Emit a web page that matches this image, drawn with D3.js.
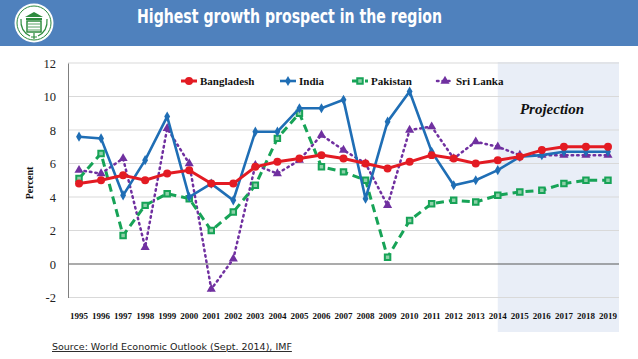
<!DOCTYPE html>
<html><head><meta charset="utf-8">
<script src="https://cdn.jsdelivr.net/npm/d3@7/dist/d3.min.js"></script>
<style>
html,body{margin:0;padding:0;background:#fff;}
svg{display:block;}
</style></head>
<body>
<script>
const years = d3.range(1995, 2020).map(String);
const bangladesh = [4.8,5.0,5.3,5.0,5.4,5.6,4.8,4.8,5.8,6.1,6.3,6.5,6.3,6.0,5.7,6.1,6.5,6.3,6.0,6.2,6.4,6.8,7.0,7.0,7.0];
const india = [7.6,7.5,4.1,6.2,8.8,4.0,4.8,3.8,7.9,7.9,9.3,9.3,9.8,3.9,8.5,10.3,6.7,4.7,5.0,5.6,6.4,6.5,6.7,6.7,6.7];
const pakistan = [5.1,6.6,1.7,3.5,4.2,3.9,2.0,3.1,4.7,7.5,9.0,5.8,5.5,5.0,0.4,2.6,3.6,3.8,3.7,4.1,4.3,4.4,4.8,5.0,5.0];
const sriLanka = [5.6,5.4,6.3,1.0,8.1,6.0,-1.5,0.3,5.9,5.4,6.2,7.7,6.8,6.0,3.5,8.0,8.2,6.3,7.3,7.0,6.5,6.5,6.5,6.5,6.5];
const yTicks = [-2,0,2,4,6,8,10,12];
const projectionStart = "2014";
const title = "Highest growth prospect in the region";
const source = "Source: World Economic Outlook (Sept. 2014), IMF";

const W = 638, H = 359;
const svg = d3.select("body").append("svg").attr("width", W).attr("height", H);

// header
svg.append("rect").attr("x",0).attr("y",0).attr("width",W).attr("height",46).attr("fill","#4F81BD");
svg.append("text").attr("x",137).attr("y",23)
  .attr("fill","#fff").attr("font-family","DejaVu Sans").attr("font-weight","bold").attr("font-size",19)
  .attr("textLength",305).attr("lengthAdjust","spacingAndGlyphs")
  .text(title);
// logo
const logo = svg.append("g").attr("transform","translate(34,23)");
logo.append("circle").attr("r",19.5).attr("fill","#fff");
logo.append("circle").attr("r",17).attr("fill","none").attr("stroke","#2E8B3E").attr("stroke-width",1);
logo.append("path").attr("d","M-9,-6 L0,-11 L9,-6 Z").attr("fill","#2E8B3E");
logo.append("rect").attr("x",-8).attr("y",-5).attr("width",16).attr("height",2).attr("fill","#2E8B3E");
logo.append("rect").attr("x",-7).attr("y",-2).attr("width",14).attr("height",11).attr("fill","none").attr("stroke","#2E8B3E").attr("stroke-width",1.5);
logo.append("path").attr("d","M-6,1 H6 M-6,4 H6 M-6,7 H6").attr("stroke","#2E8B3E").attr("stroke-width",0.8);
logo.append("path").attr("d","M-13,-4 Q-14,8 -4,13 M13,-4 Q14,8 4,13 M0,10 V16 M-3,14 H3").attr("fill","none").attr("stroke","#2E8B3E").attr("stroke-width",1.2);

// scales
const x = d3.scaleBand().domain(years).range([68,619]).padding(0);
const cx = d => x(d) + x.bandwidth()/2;
const y = d3.scaleLinear().domain([-2,12]).range([297.5,63]);

// projection shading
svg.append("rect").attr("x",cx(projectionStart)).attr("y",62)
  .attr("width",619 - cx(projectionStart)).attr("height",270).attr("fill","#E9EEF7");

// grid
svg.append("g").selectAll("line").data(yTicks.filter(t=>t!==0)).join("line")
  .attr("x1",68).attr("x2",619).attr("y1",d=>y(d)).attr("y2",d=>y(d))
  .attr("stroke","#D9D9D9").attr("stroke-width",1);
svg.append("line").attr("x1",68).attr("x2",619).attr("y1",y(0)).attr("y2",y(0))
  .attr("stroke","#595959").attr("stroke-width",1.2);

// y axis
const yAxis = svg.append("g").attr("transform","translate(68,0)")
  .call(d3.axisLeft(y).tickValues(yTicks).tickSize(0).tickPadding(12).tickFormat(d => String(d)));
yAxis.select(".domain").attr("stroke","#7F7F7F");
yAxis.selectAll("text").attr("font-family","Liberation Serif").attr("font-size",12.5).attr("fill","#222");

// x axis labels
const xAxis = svg.append("g").attr("transform","translate(0,313)")
  .call(d3.axisBottom(x).tickSize(0).tickPadding(0));
xAxis.select(".domain").remove();
xAxis.selectAll("text").attr("font-family","Liberation Serif").attr("font-weight","bold").attr("font-size",9).attr("fill","#111");

svg.append("text").attr("transform","translate(33,183) rotate(-90)").attr("text-anchor","middle")
  .attr("font-family","Liberation Serif").attr("font-weight","bold").attr("font-size",10).attr("fill","#111")
  .text("Percent");

svg.append("text").attr("x",552).attr("y",114).attr("text-anchor","middle")
  .attr("font-family","Liberation Serif").attr("font-weight","bold").attr("font-style","italic").attr("font-size",15).attr("fill","#111")
  .text("Projection");

const series = [
  {name:"Bangladesh", values:bangladesh, color:"#E31B23", width:3, dash:null, marker:"circle"},
  {name:"India", values:india, color:"#1F6EB5", width:2.6, dash:null, marker:"diamond"},
  {name:"Pakistan", values:pakistan, color:"#17A357", width:3, dash:"8,5", marker:"square"},
  {name:"Sri Lanka", values:sriLanka, color:"#7030A0", width:2.5, dash:"1.5,4", marker:"triangle"}
];
const symType = {circle:d3.symbolCircle, diamond:d3.symbolDiamond, square:d3.symbolSquare, triangle:d3.symbolTriangle};
const symSize = {circle:50, diamond:30, square:30, triangle:36};

const line = d3.line().x((d,i)=>cx(years[i])).y(d=>y(d));
function drawMarker(g, s, px, py) {
  const p = g.append("path").attr("d", d3.symbol().type(symType[s.marker]).size(symSize[s.marker])())
    .attr("transform",`translate(${px},${py})`);
  if (s.marker==="square") p.attr("fill","#8FD1A9").attr("stroke",s.color).attr("stroke-width",2);
  else p.attr("fill",s.color);
}
const order = [series[3], series[2], series[1], series[0]];
order.forEach(s => {
  const g = svg.append("g");
  g.append("path").datum(s.values).attr("d",line).attr("fill","none")
    .attr("stroke",s.color).attr("stroke-width",s.width)
    .attr("stroke-linecap", s.marker==="triangle" ? "round" : "butt")
    .attr("stroke-dasharray",s.dash);
  s.values.forEach((v,i)=>drawMarker(g, s, cx(years[i]), y(v)));
});

// legend
const legX = [181, 280, 352, 437];
series.forEach((s,i) => {
  const g = svg.append("g").attr("transform",`translate(${legX[i]},81)`);
  g.append("line").attr("x1",0).attr("x2",16).attr("y1",0).attr("y2",0)
    .attr("stroke",s.color).attr("stroke-width",s.width).attr("stroke-dasharray",s.dash)
    .attr("stroke-linecap", s.marker==="triangle" ? "round" : "butt");
  drawMarker(g, s, 8, 0);
  g.append("text").attr("x",19).attr("y",4).attr("font-family","Liberation Serif").attr("font-weight","bold")
    .attr("font-size",11).attr("fill","#111").text(s.name);
});

// source
svg.append("text").attr("x",52).attr("y",350).attr("font-family","DejaVu Sans").attr("font-size",9.5)
  .attr("fill","#222").attr("text-decoration","underline").text(source);
</script>
</body></html>
